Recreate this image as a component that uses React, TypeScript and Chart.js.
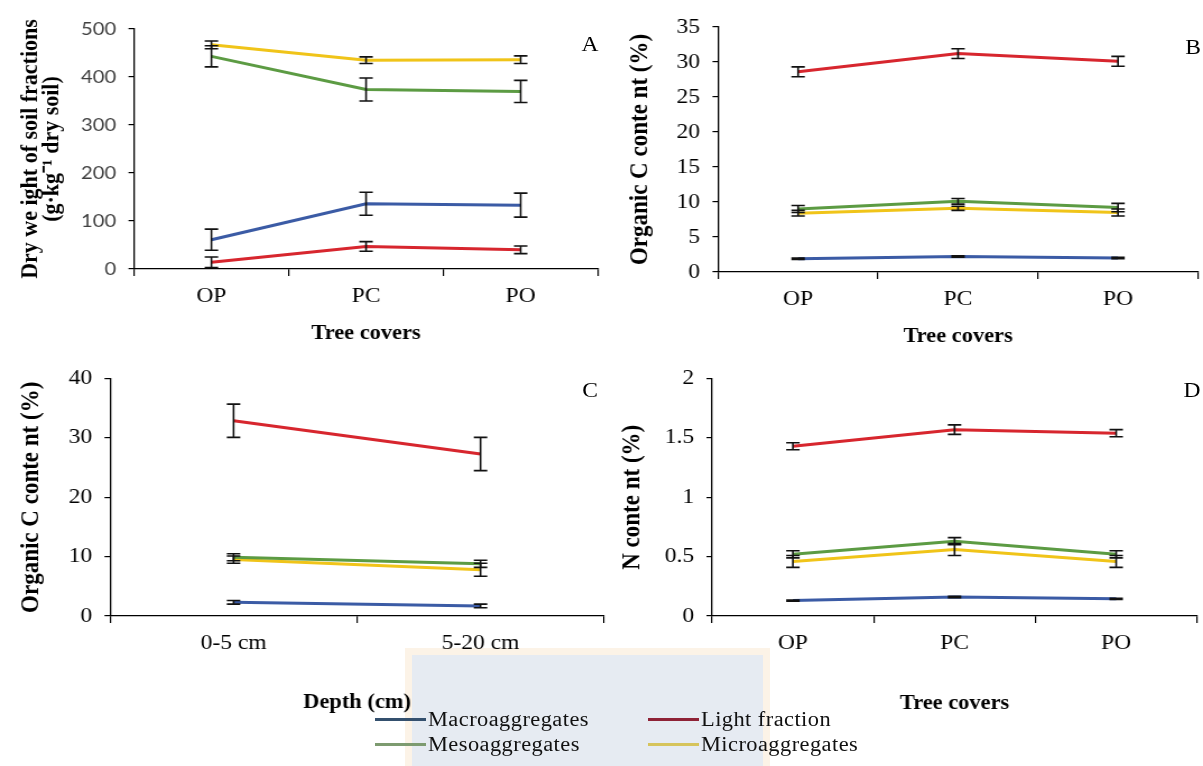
import React, { useEffect, useRef } from 'react';
import { Chart, registerables } from 'chart.js';

Chart.register(...registerables);

// horizontal stretch of the original figure
const K = 1.12;
const SERIF = '"Liberation Serif", "Times New Roman", serif';
const SANS = 'Lato, "Liberation Sans", sans-serif';

// ---------- data ----------
const treeCovers = ['OP', 'PC', 'PO'];
const depths = ['0-5 cm', '5-20 cm'];
const seriesNames = ['Macroaggregates', 'Light fraction', 'Mesoaggregates', 'Microaggregates'];
const seriesColors = ['#3b5ba5', '#d7262e', '#5c9b43', '#f0c419'];
const legendColors = ['#34506e', '#8e2236', '#7d9b70', '#d6c45c'];

// Panel A: dry weight of soil fractions (g kg-1 dry soil)
const dryMacro = [61, 136, 133];
const dryMacroErr = [22, 24, 25];
const dryLight = [14, 47, 40];
const dryLightErr = [11, 10, 8];
const dryMeso = [443, 374, 370];
const dryMesoErr = [22, 24, 23];
const dryMicro = [467, 435, 436];
const dryMicroErr = [8, 7, 8];
const ticksA = [0, 100, 200, 300, 400, 500];

// Panel B: organic C content (%) by tree cover
const ocMacro = [1.9, 2.2, 2.0];
const ocMacroErr = [0.1, 0.1, 0.1];
const ocLight = [28.6, 31.2, 30.1];
const ocLightErr = [0.7, 0.7, 0.7];
const ocMeso = [9.0, 10.1, 9.2];
const ocMesoErr = [0.5, 0.4, 0.6];
const ocMicro = [8.4, 9.1, 8.5];
const ocMicroErr = [0.4, 0.3, 0.5];
const ticksB = [0, 5, 10, 15, 20, 25, 30, 35];

// Panel C: organic C content (%) by depth
const depthMacro = [2.3, 1.7];
const depthMacroErr = [0.3, 0.3];
const depthLight = [32.9, 27.3];
const depthLightErr = [2.8, 2.8];
const depthMeso = [9.9, 8.8];
const depthMesoErr = [0.6, 0.6];
const depthMicro = [9.5, 7.8];
const depthMicroErr = [0.6, 1.1];
const ticksC = [0, 10, 20, 30, 40];

// Panel D: N content (%)
const nMacro = [0.13, 0.16, 0.145];
const nMacroErr = [0.005, 0.005, 0.005];
const nLight = [1.43, 1.57, 1.54];
const nLightErr = [0.03, 0.04, 0.03];
const nMeso = [0.52, 0.63, 0.52];
const nMesoErr = [0.03, 0.03, 0.03];
const nMicro = [0.46, 0.56, 0.46];
const nMicroErr = [0.05, 0.05, 0.05];
const ticksD = [0, 0.5, 1, 1.5, 2];

// ---------- panels ----------
type Geo = {
  left: number; top: number; width: number; height: number;
  areaLeft: number; areaRight: number; areaTop: number; areaBottom: number;
  yTitleX: number; xTitlePad: number;
};

type Panel = {
  key: string;
  letter: string;
  letterPos: [number, number];
  labels: string[];
  values: number[][];
  errors: number[][];
  ticks: number[];
  yTitle: string | string[];
  yTitleSize: number;
  yTitleLineHeight: number;
  xTitle: string;
  yTickFont: any;
  geo: Geo;
};

const panels: Panel[] = [
  {
    key: 'A', letter: 'A', letterPos: [590, 44],
    labels: treeCovers,
    values: [dryMacro, dryLight, dryMeso, dryMicro],
    errors: [dryMacroErr, dryLightErr, dryMesoErr, dryMicroErr],
    ticks: ticksA,
    yTitle: ['Dry we ight of soil fractions', '(g\u00B7kg\u207B\u00B9 dry soil)'],
    yTitleSize: 22,
    yTitleLineHeight: 19,
    xTitle: 'Tree covers',
    yTickFont: { family: SANS, size: 18 },
    geo: { left: 0, top: 0, width: 612, height: 350, areaLeft: 134, areaRight: 598, areaTop: 29, areaBottom: 269, yTitleX: 31, xTitlePad: 4 },
  },
  {
    key: 'B', letter: 'B', letterPos: [1193, 47],
    labels: treeCovers,
    values: [ocMacro, ocLight, ocMeso, ocMicro],
    errors: [ocMacroErr, ocLightErr, ocMesoErr, ocMicroErr],
    ticks: ticksB,
    yTitle: 'Organic C conte nt (%)',
    yTitleSize: 23,
    yTitleLineHeight: 24,
    xTitle: 'Tree covers',
    yTickFont: { family: SERIF, size: 21 },
    geo: { left: 600, top: 0, width: 603, height: 352, areaLeft: 718, areaRight: 1198, areaTop: 27, areaBottom: 272, yTitleX: 640, xTitlePad: 3 },
  },
  {
    key: 'C', letter: 'C', letterPos: [590, 390],
    labels: depths,
    values: [depthMacro, depthLight, depthMeso, depthMicro],
    errors: [depthMacroErr, depthLightErr, depthMesoErr, depthMicroErr],
    ticks: ticksC,
    yTitle: 'Organic C conte nt (%)',
    yTitleSize: 23,
    yTitleLineHeight: 24,
    xTitle: 'Depth (cm)',
    yTickFont: { family: SERIF, size: 21 },
    geo: { left: 0, top: 355, width: 612, height: 365, areaLeft: 110, areaRight: 604, areaTop: 376, areaBottom: 616, yTitleX: 31, xTitlePad: 5 },
  },
  {
    key: 'D', letter: 'D', letterPos: [1192, 390],
    labels: treeCovers,
    values: [nMacro, nLight, nMeso, nMicro],
    errors: [nMacroErr, nLightErr, nMesoErr, nMicroErr],
    ticks: ticksD,
    yTitle: 'N conte nt (%)',
    yTitleSize: 23,
    yTitleLineHeight: 24,
    xTitle: 'Tree covers',
    yTickFont: { family: SERIF, size: 21 },
    geo: { left: 600, top: 355, width: 603, height: 365, areaLeft: 712, areaRight: 1197, areaTop: 372, areaBottom: 616, yTitleX: 633, xTitlePad: 4 },
  },
];

const errorBarPlugin = {
  id: 'errorBars',
  afterDatasetsDraw(chart: any) {
    const ctx = chart.ctx;
    const xs = chart.scales.x;
    const ys = chart.scales.y;
    ctx.save();
    ctx.strokeStyle = '#111';
    ctx.lineWidth = 1.6;
    chart.data.datasets.forEach((ds: any) => {
      const errs: number[] = ds.errors || [];
      ds.data.forEach((v: number, i: number) => {
        const e = errs[i];
        if (!e) return;
        const px = xs.getPixelForValue(i);
        const pTop = ys.getPixelForValue(v + e);
        const pBot = ys.getPixelForValue(v - e);
        const cap = 6;
        ctx.beginPath();
        ctx.moveTo(px, pTop);
        ctx.lineTo(px, pBot);
        ctx.moveTo(px - cap, pTop);
        ctx.lineTo(px + cap, pTop);
        ctx.moveTo(px - cap, pBot);
        ctx.lineTo(px + cap, pBot);
        ctx.stroke();
      });
    });
    ctx.restore();
  },
};

function PanelChart({ p }: { p: Panel }) {
  const ref = useRef<HTMLCanvasElement | null>(null);
  const g = p.geo;
  const cw = Math.round(g.width / K);
  useEffect(() => {
    if (!ref.current) return;
    const yWidth = (g.areaLeft - g.left) / K;
    const padRight = (g.left + g.width - g.areaRight) / K;
    const xHeight = g.top + g.height - g.areaBottom;
    const yTitleCenter = (g.yTitleX - g.left) / K;
    const chart = new Chart(ref.current, {
      type: 'line',
      data: {
        labels: p.labels,
        datasets: p.values.map((vals, i) => ({
          label: seriesNames[i],
          data: vals,
          errors: p.errors[i],
          borderColor: seriesColors[i],
          backgroundColor: seriesColors[i],
          borderWidth: 3,
          pointRadius: 0,
          tension: 0,
          fill: false,
        })) as any,
      },
      options: {
        animation: false,
        responsive: false,
        devicePixelRatio: 1,
        events: [],
        layout: { padding: { top: g.areaTop - g.top, right: padRight, left: 0, bottom: 0 } },
        plugins: { legend: { display: false }, tooltip: { enabled: false } },
        scales: {
          x: {
            type: 'category',
            offset: true,
            grid: { offset: true, drawOnChartArea: false, drawTicks: true, tickLength: 7, color: '#000', lineWidth: 1.2 },
            border: { color: '#000', width: 1.3 },
            ticks: { color: '#000', font: { family: SERIF, size: 21 }, padding: 8, maxRotation: 0, autoSkip: false },
            title: {
              display: true, text: p.xTitle, color: '#000',
              font: { family: SERIF, size: 20, weight: 'bold', lineHeight: 1.2 },
              padding: { top: 0, bottom: g.xTitlePad },
            },
            afterFit: (s: any) => { s.height = xHeight; },
          },
          y: {
            min: p.ticks[0],
            max: p.ticks[p.ticks.length - 1],
            afterBuildTicks: (s: any) => { s.ticks = p.ticks.map((v) => ({ value: v })); },
            grid: { drawOnChartArea: false, drawTicks: true, tickLength: 5, color: '#000', lineWidth: 1.2 },
            border: { color: '#000', width: 1.3 },
            ticks: {
              color: p.key === 'A' ? '#404040' : '#000',
              font: p.yTickFont,
              padding: 11,
              callback: (v: any) => String(v),
            },
            title: {
              display: true, text: p.yTitle, color: '#000',
              font: { family: SERIF, size: p.yTitleSize, weight: 'bold', lineHeight: p.yTitleLineHeight + 'px' },
              padding: { top: yTitleCenter - p.yTitleLineHeight / 2, bottom: 0 },
            },
            afterFit: (s: any) => { s.width = yWidth; },
          },
        },
      } as any,
      plugins: [errorBarPlugin],
    });
    return () => chart.destroy();
  }, []);
  return (
    <canvas
      ref={ref}
      width={cw}
      height={g.height}
      style={{ position: 'absolute', left: g.left, top: g.top, width: g.width, height: g.height, display: 'block' }}
    />
  );
}

const legendPos: [number, number][] = [[375, 719], [648, 719], [375, 744], [648, 744]];

export default function App() {
  return (
    <div style={{ position: 'absolute', left: 0, top: 0, width: 1203, height: 766, background: '#fff', overflow: 'hidden' }}>
      {/* faint watermark behind legend */}
      <div style={{ position: 'absolute', left: 405, top: 648, width: 365, height: 118, background: '#fcf3e7' }} />
      <div style={{ position: 'absolute', left: 412, top: 655, width: 351, height: 111, background: '#e6ebf2' }} />
      {panels.map((p) => (
        <PanelChart key={p.key} p={p} />
      ))}
      {panels.map((p) => (
        <div
          key={'l' + p.key}
          style={{
            position: 'absolute', left: p.letterPos[0] - 20, top: p.letterPos[1] - 13, width: 40, height: 26,
            textAlign: 'center', font: `21px ${SERIF}`, color: '#000', lineHeight: '26px', transform: `scaleX(${K})`,
          }}
        >
          {p.letter}
        </div>
      ))}
      {seriesNames.map((name, i) => (
        <div key={name} style={{ position: 'absolute', left: legendPos[i][0], top: legendPos[i][1] - 13, height: 26, display: 'flex', alignItems: 'center' }}>
          <div style={{ width: 51, height: 3, background: legendColors[i] }} />
          <div style={{ marginLeft: 2, font: `20px ${SERIF}`, letterSpacing: '0.4px', color: '#111', lineHeight: '26px', transform: `scaleX(${K})`, transformOrigin: 'left center', whiteSpace: 'nowrap' }}>
            {name}
          </div>
        </div>
      ))}
    </div>
  );
}
